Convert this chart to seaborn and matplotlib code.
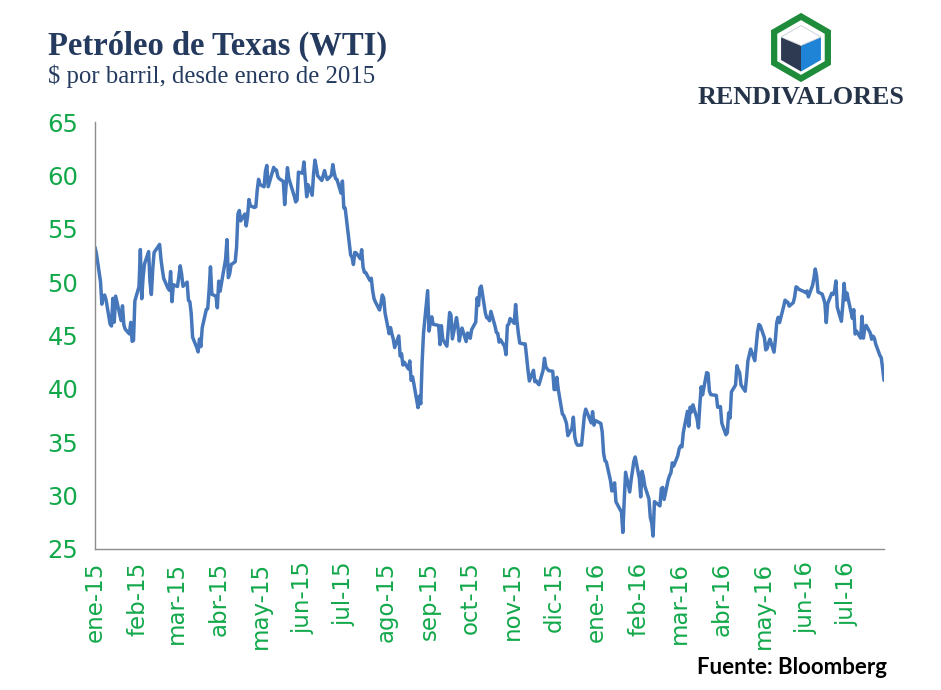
import matplotlib
matplotlib.use("Agg")
import matplotlib.pyplot as plt
import matplotlib.dates as mdates
from matplotlib.patches import Polygon
from matplotlib.ticker import FuncFormatter
import numpy as np
import pandas as pd
import seaborn as sns

# ---------------- data (WTI, $ per barrel) ----------------
dates = [
    # 2015
    "2015-01-01","2015-01-02","2015-01-05","2015-01-06","2015-01-07","2015-01-08","2015-01-09","2015-01-12","2015-01-13","2015-01-14",
    "2015-01-15","2015-01-16","2015-01-20","2015-01-21","2015-01-22","2015-01-23","2015-01-26","2015-01-27","2015-01-28","2015-01-29",
    "2015-01-30","2015-02-02","2015-02-03","2015-02-04","2015-02-05","2015-02-06","2015-02-09","2015-02-10","2015-02-11","2015-02-12",
    "2015-02-13","2015-02-17","2015-02-18","2015-02-19","2015-02-20","2015-02-23","2015-02-24","2015-02-25","2015-02-26","2015-02-27",
    "2015-03-02","2015-03-03","2015-03-04","2015-03-05","2015-03-06","2015-03-09","2015-03-10","2015-03-11","2015-03-12","2015-03-13",
    "2015-03-16","2015-03-17","2015-03-18","2015-03-19","2015-03-20","2015-03-23","2015-03-24","2015-03-25","2015-03-26","2015-03-27",
    "2015-03-30","2015-03-31","2015-04-01","2015-04-02","2015-04-06","2015-04-07","2015-04-08","2015-04-09","2015-04-10","2015-04-13",
    "2015-04-14","2015-04-15","2015-04-16","2015-04-17","2015-04-20","2015-04-21","2015-04-22","2015-04-23","2015-04-24","2015-04-27",
    "2015-04-28","2015-04-29","2015-04-30","2015-05-01","2015-05-04","2015-05-05","2015-05-06","2015-05-07","2015-05-08","2015-05-11",
    "2015-05-12","2015-05-13","2015-05-14","2015-05-15","2015-05-18","2015-05-19","2015-05-20","2015-05-21","2015-05-22","2015-05-26",
    "2015-05-27","2015-05-28","2015-05-29","2015-06-01","2015-06-02","2015-06-03","2015-06-04","2015-06-05","2015-06-08","2015-06-09",
    "2015-06-10","2015-06-11","2015-06-12","2015-06-15","2015-06-16","2015-06-17","2015-06-18","2015-06-19","2015-06-22","2015-06-23",
    "2015-06-24","2015-06-25","2015-06-26","2015-06-29","2015-06-30","2015-07-01","2015-07-02","2015-07-06","2015-07-07","2015-07-08",
    "2015-07-09","2015-07-10","2015-07-13","2015-07-14","2015-07-15","2015-07-16","2015-07-17","2015-07-20","2015-07-21","2015-07-22",
    "2015-07-23","2015-07-24","2015-07-27","2015-07-28","2015-07-29","2015-07-30","2015-07-31","2015-08-03","2015-08-04","2015-08-05",
    "2015-08-06","2015-08-07","2015-08-10","2015-08-11","2015-08-12","2015-08-13","2015-08-14","2015-08-17","2015-08-18","2015-08-19",
    "2015-08-20","2015-08-21","2015-08-24","2015-08-25","2015-08-26","2015-08-27","2015-08-28","2015-08-31","2015-09-01","2015-09-02",
    "2015-09-03","2015-09-04","2015-09-08","2015-09-09","2015-09-10","2015-09-11","2015-09-14","2015-09-15","2015-09-16","2015-09-17",
    "2015-09-18","2015-09-21","2015-09-22","2015-09-23","2015-09-24","2015-09-25","2015-09-28","2015-09-29","2015-09-30","2015-10-01",
    "2015-10-02","2015-10-05","2015-10-06","2015-10-07","2015-10-08","2015-10-09","2015-10-12","2015-10-13","2015-10-14","2015-10-15",
    "2015-10-16","2015-10-19","2015-10-20","2015-10-21","2015-10-22","2015-10-23","2015-10-26","2015-10-27","2015-10-28","2015-10-29",
    "2015-10-30","2015-11-02","2015-11-03","2015-11-04","2015-11-05","2015-11-06","2015-11-09","2015-11-10","2015-11-11","2015-11-12",
    "2015-11-13","2015-11-16","2015-11-17","2015-11-18","2015-11-19","2015-11-20","2015-11-23","2015-11-24","2015-11-25","2015-11-27",
    "2015-11-30","2015-12-01","2015-12-02","2015-12-03","2015-12-04","2015-12-07","2015-12-08","2015-12-09","2015-12-10","2015-12-11",
    "2015-12-14","2015-12-15","2015-12-16","2015-12-17","2015-12-18","2015-12-21","2015-12-22","2015-12-23","2015-12-24","2015-12-28",
    "2015-12-29","2015-12-30","2015-12-31",
    # 2016
    "2016-01-04","2016-01-05","2016-01-06","2016-01-07","2016-01-08","2016-01-11","2016-01-12","2016-01-13",
    "2016-01-14","2016-01-15","2016-01-19","2016-01-20","2016-01-21","2016-01-22","2016-01-25","2016-01-26","2016-01-27","2016-01-28",
    "2016-01-29","2016-02-01","2016-02-02","2016-02-03","2016-02-04","2016-02-05","2016-02-08","2016-02-09","2016-02-10","2016-02-11",
    "2016-02-12","2016-02-16","2016-02-17","2016-02-18","2016-02-19","2016-02-22","2016-02-23","2016-02-24","2016-02-25","2016-02-26",
    "2016-02-29","2016-03-01","2016-03-02","2016-03-03","2016-03-04","2016-03-07","2016-03-08","2016-03-09","2016-03-10","2016-03-11",
    "2016-03-14","2016-03-15","2016-03-16","2016-03-17","2016-03-18","2016-03-21","2016-03-22","2016-03-23","2016-03-24","2016-03-28",
    "2016-03-29","2016-03-30","2016-03-31","2016-04-01","2016-04-04","2016-04-05","2016-04-06","2016-04-07","2016-04-08","2016-04-11",
    "2016-04-12","2016-04-13","2016-04-14","2016-04-15","2016-04-18","2016-04-19","2016-04-20","2016-04-21","2016-04-22","2016-04-25",
    "2016-04-26","2016-04-27","2016-04-28","2016-04-29","2016-05-02","2016-05-03","2016-05-04","2016-05-05","2016-05-06","2016-05-09",
    "2016-05-10","2016-05-11","2016-05-12","2016-05-13","2016-05-16","2016-05-17","2016-05-18","2016-05-19","2016-05-20","2016-05-23",
    "2016-05-24","2016-05-25","2016-05-26","2016-05-27","2016-05-31","2016-06-01","2016-06-02","2016-06-03","2016-06-06","2016-06-07",
    "2016-06-08","2016-06-09","2016-06-10","2016-06-13","2016-06-14","2016-06-15","2016-06-16","2016-06-17","2016-06-20","2016-06-21",
    "2016-06-22","2016-06-23","2016-06-24","2016-06-27","2016-06-28","2016-06-29","2016-06-30","2016-07-01","2016-07-05","2016-07-06",
    "2016-07-07","2016-07-08","2016-07-11","2016-07-12","2016-07-13","2016-07-14","2016-07-15","2016-07-18","2016-07-19","2016-07-20",
    "2016-07-21","2016-07-22","2016-07-25","2016-07-26","2016-07-27","2016-07-28",
]

wti = [
    # 2015
    53.27,52.69,50.04,47.93,48.65,48.79,48.36,46.07,45.89,48.48,
    46.25,48.69,46.39,47.78,45.99,45.59,45.15,46.23,44.45,44.53,
    48.24,49.57,53.05,48.45,50.48,51.69,52.86,50.02,48.84,51.21,
    52.78,53.53,52.14,51.16,50.34,49.45,49.25,50.99,48.17,49.76,
    49.59,50.52,51.53,50.76,49.61,50.00,48.29,48.17,47.05,44.84,
    43.88,43.46,44.66,43.96,45.72,47.45,47.51,49.21,51.43,48.87,
    48.68,47.60,50.09,49.14,52.14,53.98,50.42,50.79,51.64,51.91,
    53.29,56.39,56.71,55.74,56.38,55.26,56.16,57.74,57.15,56.99,
    57.06,58.58,59.63,59.15,58.93,60.40,60.93,58.94,59.39,60.75,
    60.50,60.50,59.88,59.69,59.43,57.26,58.98,60.72,59.72,58.03,
    57.51,57.68,60.30,60.20,61.26,59.64,58.00,59.13,58.14,60.14,
    61.43,60.77,59.96,59.52,59.97,60.45,59.92,59.61,60.01,61.01,
    60.27,59.70,59.63,58.33,59.47,56.96,56.93,52.53,52.33,51.65,
    52.78,52.74,52.20,53.04,51.41,50.91,50.89,50.15,50.36,49.19,
    48.45,48.14,47.39,47.98,48.79,48.52,47.12,45.17,45.74,45.15,
    44.66,43.87,44.96,43.08,43.30,42.23,42.50,41.87,42.62,40.80,
    41.14,40.45,38.24,39.31,38.60,42.56,45.22,49.20,45.41,46.25,
    46.75,46.05,45.94,44.15,45.92,44.63,44.00,45.59,47.15,46.90,
    44.68,46.68,45.83,44.48,45.22,45.70,44.43,45.23,45.09,44.74,
    45.54,46.26,48.53,47.81,49.43,49.63,47.10,46.66,46.64,46.38,
    47.26,45.89,45.29,45.20,44.38,44.60,43.98,43.20,45.94,46.06,
    46.59,46.14,47.90,46.32,45.20,44.29,44.21,44.21,42.93,41.75,
    40.74,41.74,40.67,40.75,40.54,40.39,41.75,42.87,42.04,41.71,
    41.65,39.94,39.94,41.08,39.97,37.65,37.51,37.16,36.76,35.62,
    36.31,37.35,35.52,34.95,34.73,34.74,36.14,37.50,38.10,36.81,
    37.87,36.60,37.04,
    # 2016
    36.76,35.97,33.97,33.27,33.16,31.41,30.44,30.48,
    31.20,29.42,28.46,26.55,29.53,32.19,30.34,31.45,32.30,33.22,
    33.62,31.62,29.88,32.28,31.72,30.89,29.69,27.94,27.45,26.21,
    29.44,29.04,30.66,30.77,29.64,31.48,31.87,32.15,33.07,32.78,
    33.75,34.40,34.66,34.57,35.92,37.90,36.50,38.29,37.84,38.50,
    37.18,36.34,38.46,40.20,39.44,41.52,41.45,39.79,39.46,39.39,
    38.28,38.32,38.34,36.79,35.70,35.89,37.75,37.26,39.72,40.36,
    42.17,41.76,41.50,40.36,39.78,41.08,42.63,43.18,43.73,42.64,
    44.04,45.33,46.03,45.92,44.78,43.65,43.78,44.32,44.66,43.44,
    44.66,46.23,46.70,46.21,47.72,48.31,48.19,48.12,47.75,48.08,
    48.62,49.56,49.48,49.33,49.10,49.01,49.17,48.62,49.69,50.36,
    51.23,50.56,49.07,48.88,48.49,48.01,46.21,47.98,48.96,48.85,
    49.13,50.11,47.64,46.33,47.85,49.88,48.33,48.99,46.60,47.43,
    45.14,45.41,44.76,46.80,44.75,45.68,45.95,45.24,44.65,44.94,
    44.75,44.19,43.13,42.92,41.92,40.80,
]

month_abbr = ["ene", "feb", "mar", "abr", "may", "jun",
              "jul", "ago", "sep", "oct", "nov", "dic"]
y_ticks = [25, 30, 35, 40, 45, 50, 55, 60, 65]

title = "Petróleo de Texas (WTI)"
subtitle = "$ por barril, desde enero de 2015"
source = "Fuente: Bloomberg"
brand = "RENDIVALORES"

df = pd.DataFrame({"fecha": pd.to_datetime(dates), "precio": wti})

# ---------------- styling ----------------
sns.set_theme(style="white")
plt.rcParams["font.family"] = ["DejaVu Sans"]

GREEN = "#12A84A"
LINE = "#4677BB"
AXIS = "#8C8C8C"
NAVY = "#243A5E"

fig = plt.figure(figsize=(9.41, 6.90), dpi=100)
ax = fig.add_axes([95 / 941, 1 - 549 / 690, (884 - 95) / 941, (549 - 122) / 690])

sns.lineplot(data=df, x="fecha", y="precio", ax=ax, color=LINE, linewidth=2.5)

ax.set_xlim(pd.Timestamp("2015-01-01"), pd.Timestamp("2016-07-28"))
ax.set_ylim(25, 65)
ax.set_yticks(y_ticks)
ax.xaxis.set_major_locator(mdates.MonthLocator())
ax.xaxis.set_major_formatter(FuncFormatter(
    lambda v, p: f"{month_abbr[mdates.num2date(v).month - 1]}-{mdates.num2date(v).strftime('%y')}"))

ax.set_xlabel("")
ax.set_ylabel("")
for s in ["top", "right"]:
    ax.spines[s].set_visible(False)
for s in ["left", "bottom"]:
    ax.spines[s].set_color(AXIS)
    ax.spines[s].set_linewidth(1.0)
ax.tick_params(axis="both", which="major", direction="out", length=6, width=1,
               color=AXIS, labelcolor=GREEN)
ax.tick_params(axis="y", pad=6, labelsize=17.5)
ax.tick_params(axis="x", pad=3, labelsize=16.5, labelrotation=90)
ax.grid(False)

# ---------------- texts ----------------
fig.text(48 / 941, 1 - 46 / 690, title, family="Liberation Serif", weight="bold",
         size=23.5, color=NAVY, ha="left", va="center")
fig.text(48 / 941, 1 - 76 / 690, subtitle, family="Liberation Serif",
         size=17.8, color=NAVY, ha="left", va="center")
fig.text(887 / 941, 1 - 668 / 690, source, family="Lato", weight="bold",
         size=16, color="black", ha="right", va="center")

# ---------------- logo (decorative) ----------------
lax = fig.add_axes([0, 0, 1, 1], zorder=5)
lax.set_xlim(0, 941)
lax.set_ylim(690, 0)
lax.axis("off")
cx, cy, r = 801, 47.5, 31
ang = np.deg2rad(np.arange(6) * 60 - 90)   # 0 top, 1 upper-right, 2 lower-right, 3 bottom, 4 lower-left, 5 upper-left
hexo = np.column_stack([cx + r * np.cos(ang), cy + r * np.sin(ang)])
lax.add_patch(Polygon(hexo, closed=True, facecolor="white", edgecolor="#1E8C3A", linewidth=4.5))
ri = 23
c0 = (cx, cy - 2)
hi = np.column_stack([cx + ri * np.cos(ang), cy + 1 + ri * np.sin(ang)])
lax.add_patch(Polygon([c0, hi[3], hi[4], hi[5]], closed=True, facecolor="#2D3A52", edgecolor="none"))
lax.add_patch(Polygon([c0, hi[1], hi[2], hi[3]], closed=True, facecolor="#1F83D6", edgecolor="none"))
lax.add_patch(Polygon([c0, hi[5], hi[0], hi[1]], closed=True, facecolor="white",
                      edgecolor="#C8CDD4", linewidth=0.6))
lax.text(801, 98, brand, family="Liberation Serif", weight="bold", size=18.8,
         color="#253448", ha="center", va="center")

fig.savefig("out.png", dpi=100, facecolor="white")
